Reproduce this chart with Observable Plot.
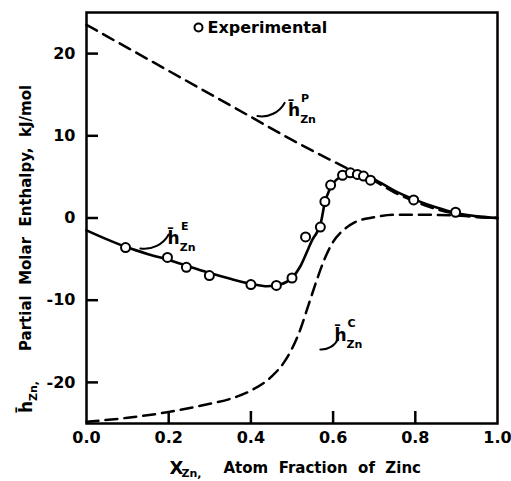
<!DOCTYPE html>
<html>
<head>
<meta charset="utf-8">
<script src="https://cdn.jsdelivr.net/npm/d3@7"></script>
<script src="https://cdn.jsdelivr.net/npm/@observablehq/plot@0.6"></script>
<style>
  body { margin: 0; background: #fff; }
  #chart svg { display: block; }
</style>
</head>
<body>
<div id="chart"></div>
<script>
// ---- data ----
const xTicks = [0, 0.2, 0.4, 0.6, 0.8, 1.0];
const yTicks = [-20, -10, 0, 10, 20];

// partial molar enthalpy of Zn, h^E (solid curve)
const eX = [0, 0.05, 0.1, 0.15, 0.2, 0.25, 0.3, 0.35, 0.4, 0.44, 0.47, 0.5, 0.52, 0.54, 0.55, 0.56, 0.57, 0.58, 0.59, 0.6, 0.62, 0.64, 0.66, 0.7, 0.75, 0.8, 0.85, 0.9, 0.95, 1.0];
const eY = [-1.5, -2.6, -3.6, -4.4, -5.1, -5.9, -6.7, -7.4, -8.0, -8.3, -8.1, -7.3, -5.9, -3.7, -2.6, -1.8, -0.6, 1.9, 3.3, 4.2, 5.1, 5.6, 5.5, 4.7, 3.3, 2.2, 1.3, 0.6, 0.2, 0];

// h^P (dashed, upper)
const pX = [0, 0.1, 0.2, 0.3, 0.4, 0.5, 0.6, 0.64, 0.7, 0.75, 0.8, 0.85, 0.9, 0.95, 1.0];
const pY = [23.5, 20.7, 17.9, 15.1, 12.3, 9.5, 6.9, 5.9, 4.5, 3.1, 2.0, 1.1, 0.5, 0.1, 0];

// h^C (dashed, lower)
const cX = [0, 0.1, 0.2, 0.3, 0.35, 0.4, 0.45, 0.48, 0.5, 0.52, 0.54, 0.56, 0.58, 0.6, 0.62, 0.65, 0.7, 0.75, 0.8, 0.9, 1.0];
const cY = [-24.8, -24.3, -23.6, -22.6, -22.0, -21.0, -19.3, -17.6, -15.9, -13.6, -10.6, -7.6, -4.9, -2.9, -1.7, -0.6, 0.1, 0.4, 0.4, 0.3, 0];

// experimental points
const expX = [0.095, 0.197, 0.243, 0.299, 0.40, 0.462, 0.50, 0.533, 0.569, 0.580, 0.594, 0.623, 0.642, 0.659, 0.674, 0.691, 0.796, 0.898];
const expY = [-3.6, -4.8, -6.0, -7.0, -8.1, -8.2, -7.3, -2.3, -1.1, 2.0, 4.0, 5.2, 5.5, 5.3, 5.1, 4.6, 2.2, 0.7];

// curve labels (anchor points in data units) and leader lines
const labelNames = ["P", "E", "C"];
const labelX = [0.505, 0.212, 0.618];
const labelY = [13.1, -2.5, -14.3];
const leaderX1 = [0.416, 0.131, 0.569];
const leaderY1 = [12.4, -3.7, -16.0];
const leaderX2 = [0.482, 0.2, 0.612];
const leaderY2 = [14.0, -2.0, -14.7];

// ---- build tables ----
const eData = eX.map((x, i) => ({x, y: eY[i]}));
const pData = pX.map((x, i) => ({x, y: pY[i]}));
const cData = cX.map((x, i) => ({x, y: cY[i]}));
const expData = expX.map((x, i) => ({x, y: expY[i]}));
const labels = labelNames.map((n, i) => ({n, x: labelX[i], y: labelY[i]}));
const leaders = labelNames.map((n, i) => ({x1: leaderX1[i], y1: leaderY1[i], x2: leaderX2[i], y2: leaderY2[i]}));

const FONT = "'DejaVu Sans', 'Liberation Sans', sans-serif";
const W = 511, H = 481, ML = 86, MR = 14, MT = 12, MB = 58, TICK = 12;

const chart = Plot.plot({
  width: W,
  height: H,
  marginLeft: ML,
  marginRight: MR,
  marginTop: MT,
  marginBottom: MB,
  style: {fontFamily: FONT, fontWeight: "bold", fontSize: "15px", background: "#fff", color: "#000", overflow: "visible"},
  x: {domain: [0, 1]},
  y: {domain: [-25, 25]},
  marks: [
    // axes: labels outside, tick marks inside
    Plot.axisX(xTicks, {anchor: "bottom", tickSize: 0, tickPadding: 8, tickFormat: d => d.toFixed(1), label: null, fontSize: 16}),
    Plot.axisY(yTicks, {anchor: "left", tickSize: 0, tickPadding: 11, tickFormat: d => String(d), label: null, fontSize: 16}),
    Plot.tickX(xTicks.slice(1, -1), {x: d => d, insetTop: (H - MT - MB) - TICK, stroke: "black", strokeWidth: 2.5}),
    Plot.tickY(yTicks, {y: d => d, insetRight: (W - ML - MR) - TICK, stroke: "black", strokeWidth: 2.5}),

    // curves
    Plot.line(pData, {x: "x", y: "y", stroke: "#000", strokeWidth: 2.5, strokeDasharray: "12,7", curve: "monotone-x"}),
    Plot.line(cData, {x: "x", y: "y", stroke: "#000", strokeWidth: 2.5, strokeDasharray: "12,7", curve: "monotone-x"}),
    Plot.line(eData, {x: "x", y: "y", stroke: "#000", strokeWidth: 2.6, curve: "monotone-x"}),
    Plot.dot(expData, {x: "x", y: "y", r: 4.5, fill: "#fff", stroke: "#000", strokeWidth: 2}),

    // leaders and labels
    Plot.arrow(leaders, {x1: "x1", y1: "y1", x2: "x2", y2: "y2", bend: -35, headLength: 0, stroke: "#000", strokeWidth: 2}),
    Plot.text(labels, {x: "x", y: "y", text: () => "h\u0304", fontSize: 17, textAnchor: "middle"}),
    Plot.text(labels, {x: "x", y: "y", text: "n", fontSize: 11, dx: 11, dy: -12, textAnchor: "middle"}),
    Plot.text(labels, {x: "x", y: "y", text: () => "Zn", fontSize: 11, dx: 14, dy: 9, textAnchor: "middle"}),

    // legend
    Plot.dot([0], {frameAnchor: "top-left", dx: 112, dy: 15, r: 4, fill: "#fff", stroke: "#000", strokeWidth: 2}),
    Plot.text(["Experimental"], {frameAnchor: "top-left", dx: 121, dy: 15, textAnchor: "start", lineAnchor: "middle", fontSize: 16}),

    // x-axis title
    Plot.text(["X"], {frameAnchor: "bottom-left", dx: 90, dy: 45, textAnchor: "middle", lineAnchor: "middle", fontSize: 18}),
    Plot.text(["Zn,"], {frameAnchor: "bottom-left", dx: 105, dy: 50, textAnchor: "middle", lineAnchor: "middle", fontSize: 11}),
    Plot.text(["Atom  Fraction  of  Zinc"], {frameAnchor: "bottom-left", dx: 137, dy: 45, textAnchor: "start", lineAnchor: "middle", fontSize: 15}),

    // y-axis title (rotated)
    Plot.text(["h\u0304"], {frameAnchor: "left", dx: -60, dy: 195, rotate: -90, textAnchor: "start", fontSize: 17}),
    Plot.text(["Zn,"], {frameAnchor: "left", dx: -53, dy: 183, rotate: -90, textAnchor: "start", fontSize: 11}),
    Plot.text(["Partial  Molar  Enthalpy,  kJ/mol"], {frameAnchor: "left", dx: -60, dy: 133, rotate: -90, textAnchor: "start", fontSize: 15}),

    Plot.frame({stroke: "#000", strokeWidth: 2.5})
  ]
});
document.getElementById("chart").appendChild(chart);
</script>
</body>
</html>
